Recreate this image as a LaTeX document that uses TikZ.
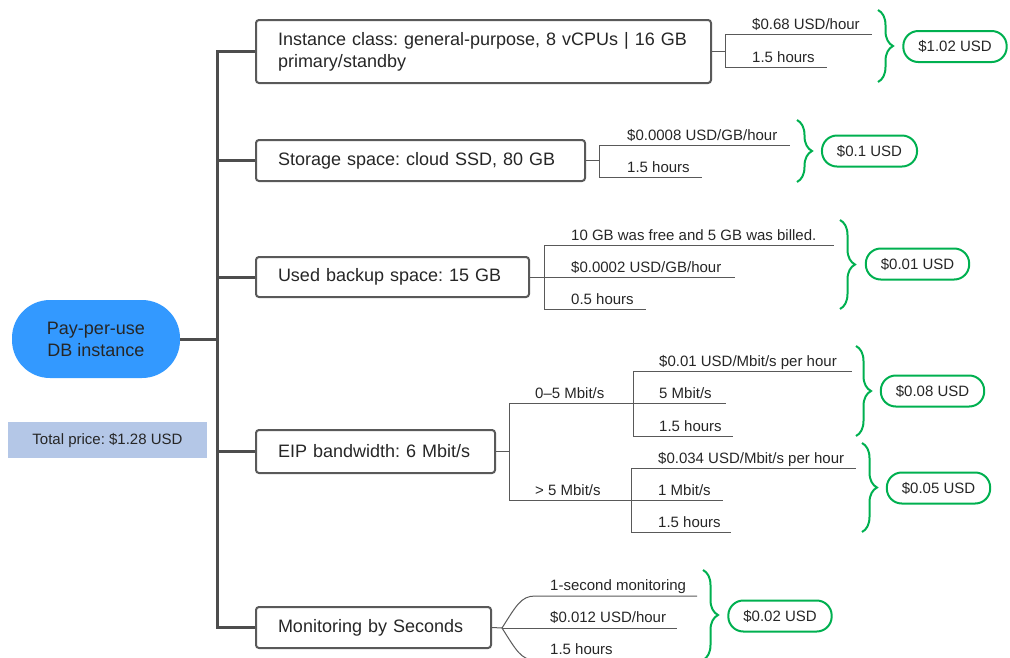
\documentclass[tikz,border=0pt]{standalone}
\usepackage{fontspec}
\setmainfont{Liberation Sans}
\usepackage{tikz}
\usetikzlibrary{positioning,calc,decorations.pathreplacing}
\frenchspacing
\definecolor{dbblue}{RGB}{51,153,255}
\definecolor{dblightblue}{RGB}{180,199,231}
\definecolor{dbgreen}{RGB}{0,176,80}
\definecolor{dbgray}{RGB}{89,89,89}
\definecolor{dbdark}{RGB}{77,77,77}
\definecolor{dbtext}{RGB}{38,38,38}
\tikzstyle{root} = [rectangle, rounded corners=38pt, minimum width=168pt, minimum height=78pt, fill=dbblue, align=center, text=dbtext, font=\fontsize{18}{22}\selectfont]
\tikzstyle{total} = [rectangle, minimum width=199pt, minimum height=36pt, fill=dblightblue, text=dbtext, font=\fontsize{15}{18}\selectfont]
\tikzstyle{item} = [rectangle, rounded corners=3pt, draw=dbgray, line width=2pt, anchor=west, align=left, inner xsep=22pt, text=dbtext, font=\fontsize{18}{22}\selectfont]
\tikzstyle{leaf} = [anchor=base west, inner sep=0pt, text=dbtext, font=\fontsize{15}{18}\selectfont]
\tikzstyle{price} = [rectangle, rounded corners=15pt, draw=dbgreen, line width=2pt, inner xsep=15pt, minimum height=31pt, text=dbtext, font=\fontsize{15}{18}\selectfont]
\tikzstyle{trunk} = [draw=dbdark, line width=3pt]
\tikzstyle{twig} = [draw=dbgray, line width=1pt]
\tikzstyle{pricebrace} = [draw=dbgreen, line width=2pt, decorate, decoration={brace, amplitude=15pt}]

\begin{document}
\begin{tikzpicture}[x=1pt, y=-1pt]
    \useasboundingbox (0,0) rectangle (1010,657);
    % Nodes
    \node[root] (db) at (96,339) {Pay-per-use\\DB instance};
    \node[total] (total) at (107.5,440) {Total price: \$1.28 USD};
    \node[item, text width=411pt, minimum height=63pt] (inst) at (255,51.5) {\mbox{Instance class: general-purpose, 8 vCPUs | 16 GB}\\primary/standby};
    \node[item, text width=285pt, minimum height=41pt] (stor) at (255,160.5) {\mbox{Storage space: cloud SSD, 80 GB}};
    \node[item, text width=229pt, minimum height=40pt] (back) at (255,277) {\mbox{Used backup space: 15 GB}};
    \node[item, text width=195pt, minimum height=43pt] (eip) at (255,451.5) {\mbox{EIP bandwidth: 6 Mbit/s}};
    \node[item, text width=191pt, minimum height=41pt] (mon) at (255,627.5) {\mbox{Monitoring by Seconds}};

    % Leaf labels
    \node[leaf] (inst-rate) at (752,29) {\$0.68 USD/hour};
    \node[leaf] (inst-time) at (752,62) {1.5 hours};
    \node[leaf] (stor-rate) at (627,140) {\$0.0008 USD/GB/hour};
    \node[leaf] (stor-time) at (627,172) {1.5 hours};
    \node[leaf] (back-free) at (571,240) {10 GB was free and 5 GB was billed.};
    \node[leaf] (back-rate) at (571,272) {\$0.0002 USD/GB/hour};
    \node[leaf] (back-time) at (571,304) {0.5 hours};
    \node[leaf] (eip-low) at (535,398) {0--5 Mbit/s};
    \node[leaf] (eip-high) at (535,495) {> 5 Mbit/s};
    \node[leaf] (low-rate) at (659,366) {\$0.01 USD/Mbit/s per hour};
    \node[leaf] (low-bw) at (659,398) {5 Mbit/s};
    \node[leaf] (low-time) at (659,431) {1.5 hours};
    \node[leaf] (high-rate) at (658,463) {\$0.034 USD/Mbit/s per hour};
    \node[leaf] (high-bw) at (658,495) {1 Mbit/s};
    \node[leaf] (high-time) at (658,527) {1.5 hours};
    \node[leaf] (mon-mode) at (550,590) {1-second monitoring};
    \node[leaf] (mon-rate) at (550,622) {\$0.012 USD/hour};
    \node[leaf] (mon-time) at (550,654) {1.5 hours};

    % Prices
    \node[price] (inst-price) at (955,46.5) {\$1.02 USD};
    \node[price] (stor-price) at (869.5,151) {\$0.1 USD};
    \node[price] (back-price) at (917.5,264) {\$0.01 USD};
    \node[price] (low-price) at (932.5,391) {\$0.08 USD};
    \node[price] (high-price) at (938.5,488) {\$0.05 USD};
    \node[price] (mon-price) at (780,616) {\$0.02 USD};

    % Junctions
    \coordinate (jn) at (217,339);
    \coordinate (j1) at (725,51.5);
    \coordinate (e1a) at (872,34);
    \coordinate (e1b) at (827,67);
    \coordinate (j2) at (599,160.5);
    \coordinate (e2a) at (790,145);
    \coordinate (e2b) at (702,177);
    \coordinate (j3) at (544,277);
    \coordinate (e3a) at (834,245);
    \coordinate (e3b) at (735,277);
    \coordinate (e3c) at (646,309);
    \coordinate (j4) at (509,451.5);
    \coordinate (jA) at (633,403);
    \coordinate (jB) at (631,500);
    \coordinate (eAa) at (852,371);
    \coordinate (eAb) at (726,403);
    \coordinate (eAc) at (733,436);
    \coordinate (eBa) at (856,468);
    \coordinate (eBb) at (723,500);
    \coordinate (eBc) at (731,532);
    \coordinate (j5) at (502,628);
    \coordinate (c5a) at (535,596);
    \coordinate (e5a) at (697,596);
    \coordinate (e5b) at (677,628);
    \coordinate (c5c) at (535,660);
    \coordinate (e5c) at (650,660);

    % Trunk
    \draw[trunk] (db.east) -- (jn);
    \foreach \b in {inst,stor,back,eip,mon}
        \draw[trunk] (jn) |- (\b.west);

    % Twigs
    \draw[twig] (inst.east) -- (j1);
    \draw[twig] (j1) |- (e1a);
    \draw[twig] (j1) |- (e1b);
    \draw[twig] (stor.east) -- (j2);
    \draw[twig] (j2) |- (e2a);
    \draw[twig] (j2) |- (e2b);
    \draw[twig] (back.east) -- (j3);
    \draw[twig] (j3) |- (e3a);
    \draw[twig] (j3) -- (e3b);
    \draw[twig] (j3) |- (e3c);
    \draw[twig] (eip.east) -- (j4);
    \draw[twig] (j4) |- (jA);
    \draw[twig] (j4) |- (jB);
    \draw[twig] (jA) |- (eAa);
    \draw[twig] (jA) -- (eAb);
    \draw[twig] (jA) |- (eAc);
    \draw[twig] (jB) |- (eBa);
    \draw[twig] (jB) -- (eBb);
    \draw[twig] (jB) |- (eBc);
    \draw[twig] (mon.east) -- (j5);
    \draw[twig] (j5) .. controls +(14,-22) and +(-14,0) .. (c5a) -- (e5a);
    \draw[twig] (j5) -- (e5b);
    \draw[twig] (j5) .. controls +(14,22) and +(-14,0) .. (c5c) -- (e5c);

    % Braces
    \draw[pricebrace] (878,10) -- (878,82);
    \draw[pricebrace] (797,120) -- (797,182);
    \draw[pricebrace] (840,220) -- (840,309);
    \draw[pricebrace] (856,346) -- (856,436);
    \draw[pricebrace] (862,443) -- (862,532);
    \draw[pricebrace] (703,570) -- (703,660);
\end{tikzpicture}
\end{document}
